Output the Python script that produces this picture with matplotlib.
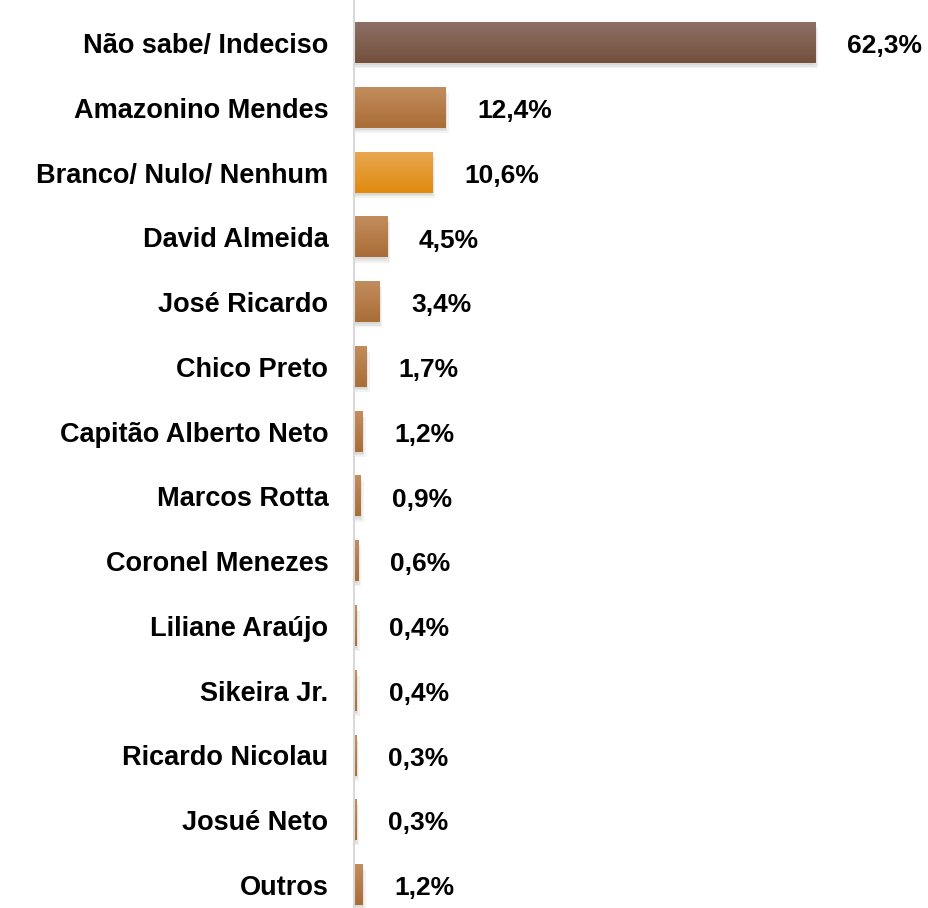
import matplotlib
matplotlib.use("Agg")
import matplotlib.pyplot as plt
import numpy as np
from matplotlib.colors import LinearSegmentedColormap

categories = [
    "Não sabe/ Indeciso", "Amazonino Mendes", "Branco/ Nulo/ Nenhum",
    "David Almeida", "José Ricardo", "Chico Preto", "Capitão Alberto Neto",
    "Marcos Rotta", "Coronel Menezes", "Liliane Araújo", "Sikeira Jr.",
    "Ricardo Nicolau", "Josué Neto", "Outros",
]
values = [62.3, 12.4, 10.6, 4.5, 3.4, 1.7, 1.2, 0.9, 0.6, 0.4, 0.4, 0.3, 0.3, 1.2]
value_labels = ["62,3%", "12,4%", "10,6%", "4,5%", "3,4%", "1,7%", "1,2%",
                "0,9%", "0,6%", "0,4%", "0,4%", "0,3%", "0,3%", "1,2%"]
# gradient (top colour, bottom colour) per bar
gradients = [("#8d6f64", "#74503d")] + [("#e8a750", "#e08a0e") if c.startswith("Branco")
                                        else ("#c28d5e", "#a96d36") for c in categories[1:]]

plt.rcParams["font.family"] = ["Liberation Sans", "DejaVu Sans"]

fig = plt.figure(figsize=(9.29, 9.08), dpi=100)
ax = fig.add_axes([354 / 929, 0, 1 - 354 / 929, 1])

n = len(categories)
h = 0.62

for i, (v, (c_top, c_bot)) in enumerate(zip(values, gradients)):
    # soft drop shadow, slightly right and below
    for k, a in enumerate([0.05, 0.05, 0.05]):
        d = 0.03 + 0.025 * k
        ax.barh(i + d, v + 0.1 * k, height=h, left=0.1 * k, color="black",
                alpha=a, zorder=1, linewidth=0)
    cmap = LinearSegmentedColormap.from_list("g", [c_top, c_bot])
    grad = np.linspace(0, 1, 64).reshape(-1, 1)
    ax.imshow(grad, cmap=cmap, aspect="auto", zorder=2,
              extent=(0, v, i + h / 2, i - h / 2), interpolation="bilinear")
    ax.text(v + 4.3, i + 0.05, value_labels[i], ha="left", va="center",
            fontsize=19, fontweight="bold", color="black", zorder=3)

ax.set_xlim(0, 77.7)
ax.set_ylim(n - 1 + 0.355, -0.664)
ax.set_yticks(range(n))
ax.set_yticklabels(categories, fontsize=19.5, fontweight="bold")
ax.tick_params(axis="y", length=0, pad=18.5)
ax.set_xticks([])
for s in ["top", "right", "bottom"]:
    ax.spines[s].set_visible(False)
ax.spines["left"].set_color("#d9d9d9")
ax.spines["left"].set_linewidth(1.5)
ax.spines["left"].set_zorder(4)

fig.savefig("out.png", dpi=100)
